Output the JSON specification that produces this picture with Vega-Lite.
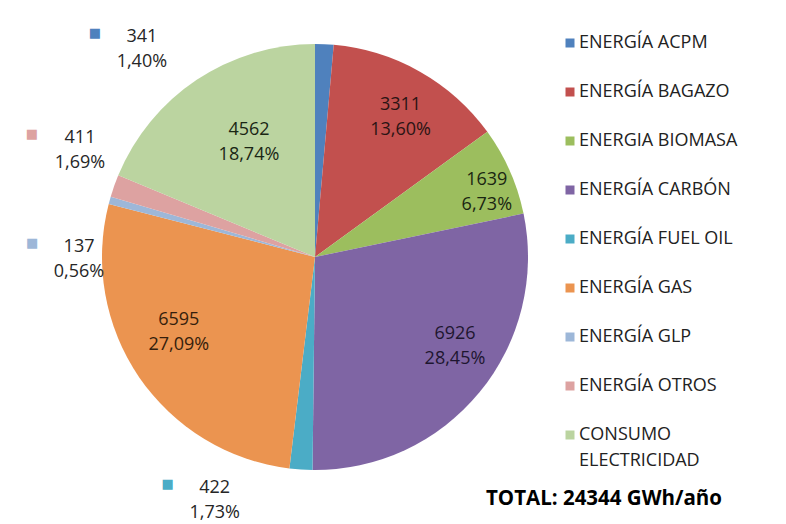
{
  "$schema": "https://vega.github.io/schema/vega-lite/v6.json",
  "width": 426,
  "height": 426,
  "autosize": "none",
  "padding": {"left": 102, "top": 44, "right": 258, "bottom": 54},
  "background": "white",
  "config": {"view": {"stroke": null}, "font": "Open Sans"},
  "title": {"text": "TOTAL: 24344 GWh/año", "orient": "bottom", "anchor": "end", "frame": "group", "dx": 194, "offset": 0, "dy": -96, "fontSize": 20.5, "fontWeight": "bold", "color": "#000000", "font": "Open Sans"},
  "data": {"values": [
    {"fuente": "ENERGÍA ACPM", "valor": 341, "porcentaje": 1.40, "orden": 1},
    {"fuente": "ENERGÍA BAGAZO", "valor": 3311, "porcentaje": 13.60, "orden": 2},
    {"fuente": "ENERGIA BIOMASA", "valor": 1639, "porcentaje": 6.73, "orden": 3},
    {"fuente": "ENERGÍA CARBÓN", "valor": 6926, "porcentaje": 28.45, "orden": 4},
    {"fuente": "ENERGÍA FUEL OIL", "valor": 422, "porcentaje": 1.73, "orden": 5},
    {"fuente": "ENERGÍA GAS", "valor": 6595, "porcentaje": 27.09, "orden": 6},
    {"fuente": "ENERGÍA GLP", "valor": 137, "porcentaje": 0.56, "orden": 7},
    {"fuente": "ENERGÍA OTROS", "valor": 411, "porcentaje": 1.69, "orden": 8},
    {"fuente": "CONSUMO ELECTRICIDAD", "valor": 4562, "porcentaje": 18.74, "orden": 9}
  ]},
  "transform": [
    {"calculate": "[format(datum.valor, 'd'), replace(format(datum.porcentaje, '.2f'), '.', ',') + '%']", "as": "etiqueta"}
  ],
  "encoding": {
    "theta": {"field": "valor", "type": "quantitative", "stack": true},
    "order": {"field": "orden", "type": "quantitative"}
  },
  "layer": [
    {
      "mark": {"type": "arc"},
      "encoding": {
        "color": {
          "field": "fuente", "type": "nominal",
          "scale": {
            "domain": ["ENERGÍA ACPM", "ENERGÍA BAGAZO", "ENERGIA BIOMASA", "ENERGÍA CARBÓN", "ENERGÍA FUEL OIL", "ENERGÍA GAS", "ENERGÍA GLP", "ENERGÍA OTROS", "CONSUMO ELECTRICIDAD"],
            "range": ["#4F81BD", "#C2504E", "#9CBE5E", "#7F65A4", "#4BACC6", "#EB9450", "#9DB7D8", "#DDA2A1", "#BBD4A0"]
          },
          "legend": {
            "title": null, "orient": "none", "legendX": 459, "legendY": -10,
            "symbolType": "square", "symbolSize": 81, "symbolStrokeWidth": 0,
            "labelFont": "Open Sans", "labelFontSize": 18, "labelColor": "#222222", "labelOffset": 0,
            "rowPadding": 31, "labelLimit": 300,
            "labelExpr": "datum.label == 'CONSUMO ELECTRICIDAD' ? ['CONSUMO', 'ELECTRICIDAD'] : datum.label",
            "encode": {"labels": {"update": {"lineHeight": {"value": 26}}}}
          }
        }
      }
    },
    {"mark": {"type": "text", "radius": 270, "dx": -185, "dy": 50, "fontSize": 18, "lineHeight": 25, "color": "#262626"},
     "encoding": {"detail": {"field": "fuente"}, "text": {"condition": {"test": "datum.orden === 1", "field": "etiqueta", "type": "nominal"}, "value": ""}}},
    {"mark": {"type": "text", "radius": 163.5, "dx": 5, "dy": -9.5, "fontSize": 18, "lineHeight": 25, "color": "#2b1414"},
     "encoding": {"detail": {"field": "fuente"}, "text": {"condition": {"test": "datum.orden === 2", "field": "etiqueta", "type": "nominal"}, "value": ""}}},
    {"mark": {"type": "text", "radius": 183.5, "dx": 4, "dy": -2.5, "fontSize": 18, "lineHeight": 25, "color": "#1a2612"},
     "encoding": {"detail": {"field": "fuente"}, "text": {"condition": {"test": "datum.orden === 3", "field": "etiqueta", "type": "nominal"}, "value": ""}}},
    {"mark": {"type": "text", "radius": 166.4, "dx": 11.5, "dy": -28.5, "fontSize": 18, "lineHeight": 25, "color": "#1e1630"},
     "encoding": {"detail": {"field": "fuente"}, "text": {"condition": {"test": "datum.orden === 4", "field": "etiqueta", "type": "nominal"}, "value": ""}}},
    {"mark": {"type": "text", "radius": 262.8, "dx": -83, "dy": -31.5, "fontSize": 18, "lineHeight": 25, "color": "#262626"},
     "encoding": {"detail": {"field": "fuente"}, "text": {"condition": {"test": "datum.orden === 5", "field": "etiqueta", "type": "nominal"}, "value": ""}}},
    {"mark": {"type": "text", "radius": 155.3, "dx": -8, "dy": -25, "fontSize": 18, "lineHeight": 25, "color": "#351e0c"},
     "encoding": {"detail": {"field": "fuente"}, "text": {"condition": {"test": "datum.orden === 6", "field": "etiqueta", "type": "nominal"}, "value": ""}}},
    {"mark": {"type": "text", "radius": 236, "dx": -8.5, "dy": 52.5, "fontSize": 18, "lineHeight": 25, "color": "#262626"},
     "encoding": {"detail": {"field": "fuente"}, "text": {"condition": {"test": "datum.orden === 7", "field": "etiqueta", "type": "nominal"}, "value": ""}}},
    {"mark": {"type": "text", "radius": 258.2, "dx": 8.4, "dy": -33.3, "fontSize": 18, "lineHeight": 25, "color": "#262626"},
     "encoding": {"detail": {"field": "fuente"}, "text": {"condition": {"test": "datum.orden === 8", "field": "etiqueta", "type": "nominal"}, "value": ""}}},
    {"mark": {"type": "text", "radius": 132.6, "dx": 7.6, "dy": -17.2, "fontSize": 18, "lineHeight": 25, "color": "#1a2614"},
     "encoding": {"detail": {"field": "fuente"}, "text": {"condition": {"test": "datum.orden === 9", "field": "etiqueta", "type": "nominal"}, "value": ""}}},
    {"mark": {"type": "text", "radius": 270, "dx": -232, "dy": 46, "fontSize": 13, "font": "DejaVu Sans"},
     "encoding": {"color": {"field": "fuente", "type": "nominal"}, "text": {"condition": {"test": "datum.orden === 1", "value": "■"}, "value": ""}}},
    {"mark": {"type": "text", "radius": 262.8, "dx": -130, "dy": -35, "fontSize": 13, "font": "DejaVu Sans"},
     "encoding": {"color": {"field": "fuente", "type": "nominal"}, "text": {"condition": {"test": "datum.orden === 5", "value": "■"}, "value": ""}}},
    {"mark": {"type": "text", "radius": 236, "dx": -55.5, "dy": 49, "fontSize": 13, "font": "DejaVu Sans"},
     "encoding": {"color": {"field": "fuente", "type": "nominal"}, "text": {"condition": {"test": "datum.orden === 7", "value": "■"}, "value": ""}}},
    {"mark": {"type": "text", "radius": 258.2, "dx": -39.6, "dy": -36.8, "fontSize": 13, "font": "DejaVu Sans"},
     "encoding": {"color": {"field": "fuente", "type": "nominal"}, "text": {"condition": {"test": "datum.orden === 8", "value": "■"}, "value": ""}}}
  ]
}
